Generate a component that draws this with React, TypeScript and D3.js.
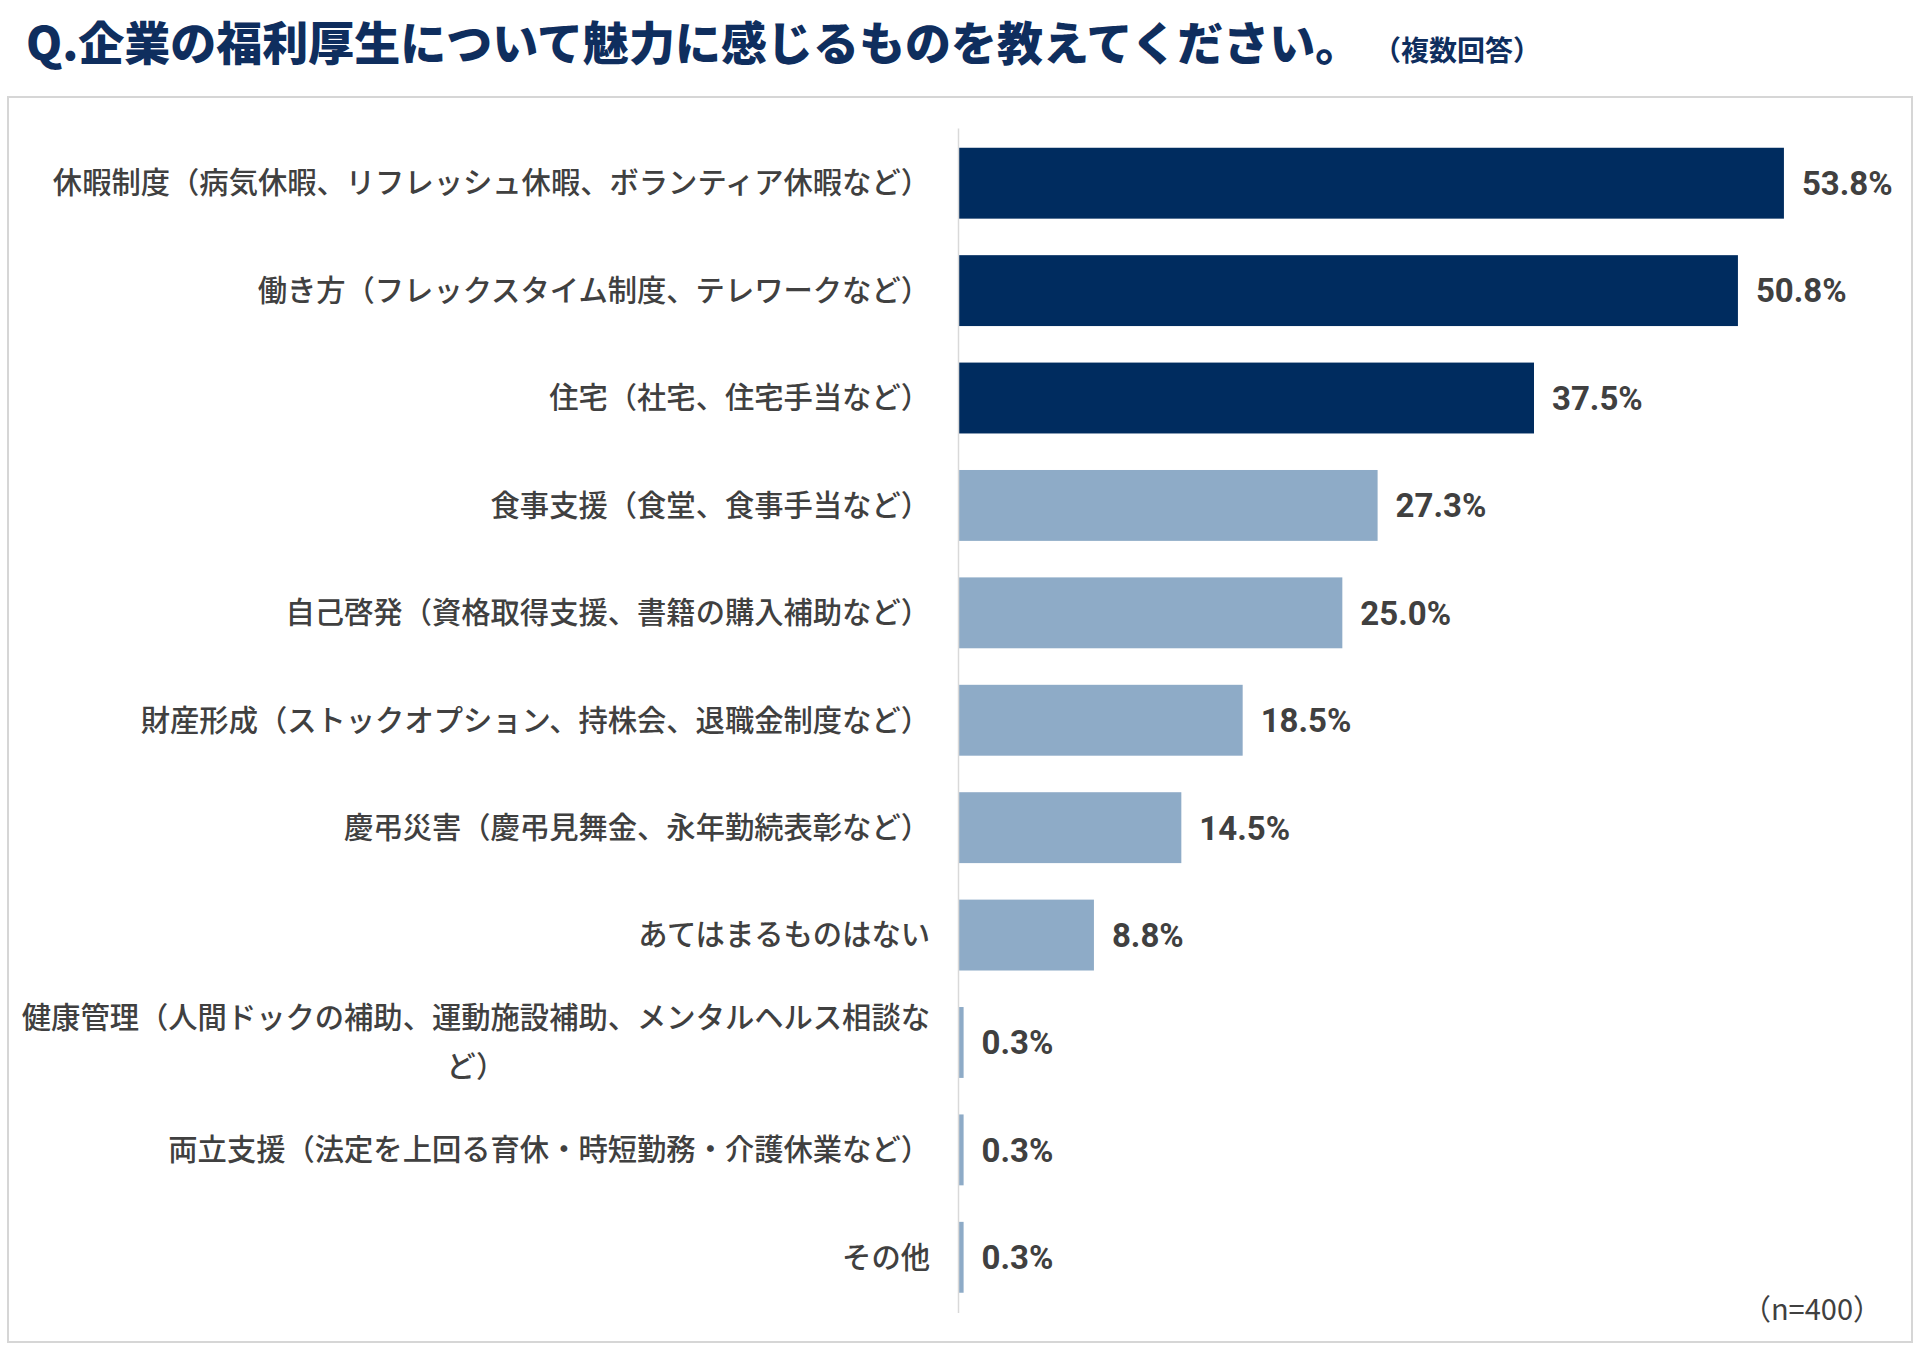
import * as d3 from "d3";
import React, { useRef, useEffect } from "react";

// chart data
const categories: string[] = [
  "休暇制度（病気休暇、リフレッシュ休暇、ボランティア休暇など）",
  "働き方（フレックスタイム制度、テレワークなど）",
  "住宅（社宅、住宅手当など）",
  "食事支援（食堂、食事手当など）",
  "自己啓発（資格取得支援、書籍の購入補助など）",
  "財産形成（ストックオプション、持株会、退職金制度など）",
  "慶弔災害（慶弔見舞金、永年勤続表彰など）",
  "あてはまるものはない",
  "健康管理（人間ドックの補助、運動施設補助、メンタルヘルス相談など）",
  "両立支援（法定を上回る育休・時短勤務・介護休業など）",
  "その他",
];
const values: number[] = [53.8, 50.8, 37.5, 27.3, 25.0, 18.5, 14.5, 8.8, 0.3, 0.3, 0.3];
const highlightCount = 3;

const titleText = "Q.企業の福利厚生について魅力に感じるものを教えてください。";
const subTitleText = "（複数回答）";
const noteText = "（n=400）";

interface Dimensions {
  width: number;
  height: number;
}

const dims: Dimensions = { width: 1914, height: 1350 };

const NAVY = "#002c5f";
const LIGHT = "#8eabc7";
const TEXT = "#404040";
const JP_FONT = "'Noto Sans CJK JP', 'Noto Sans', sans-serif";
const NUM_FONT = "Roboto, 'Noto Sans', sans-serif";

const BarChart = () => {
  const svgRef = useRef<SVGSVGElement>(null);

  useEffect(() => {
    draw();
  }, []);

  const draw = () => {
    if (svgRef.current === null) {
      return;
    }
    const svg = d3.select(svgRef.current);
    svg.selectAll("*").remove();

    // title
    svg
      .append("text")
      .attr("x", 26)
      .attr("y", 60)
      .attr("font-family", JP_FONT)
      .attr("font-weight", 900)
      .attr("font-size", 46)
      .attr("fill", "#0f2e5e")
      .text(titleText);
    svg
      .append("text")
      .attr("x", 1373)
      .attr("y", 61)
      .attr("font-family", JP_FONT)
      .attr("font-weight", 700)
      .attr("font-size", 28)
      .attr("fill", "#0f2e5e")
      .text(subTitleText);

    // frame
    svg
      .append("rect")
      .attr("x", 8)
      .attr("y", 97)
      .attr("width", 1904)
      .attr("height", 1245)
      .attr("fill", "white")
      .attr("stroke", "#d6d6d6")
      .attr("stroke-width", 2);

    const xScale = d3.scaleLinear().domain([0, 60]).range([959, 1879]);
    const yScale = d3
      .scaleBand()
      .domain(categories)
      .range([129.5, 1311])
      .paddingInner(0.34)
      .paddingOuter(0.17);

    // bars
    svg
      .selectAll(".bar")
      .data(values)
      .enter()
      .append("rect")
      .attr("class", "bar")
      .attr("x", xScale(0))
      .attr("y", (d, i) => yScale(categories[i])!)
      .attr("width", (d) => xScale(d) - xScale(0))
      .attr("height", yScale.bandwidth())
      .attr("fill", (d, i) => (i < highlightCount ? NAVY : LIGHT));

    // axis line
    svg
      .append("line")
      .attr("x1", xScale(0) - 0.5)
      .attr("x2", xScale(0) - 0.5)
      .attr("y1", yScale.range()[0] - 1)
      .attr("y2", yScale.range()[1] + 2)
      .attr("stroke", "#d9d9d9")
      .attr("stroke-width", 1.5);

    // value labels
    svg
      .selectAll(".value")
      .data(values)
      .enter()
      .append("text")
      .attr("class", "value")
      .attr("x", (d) => xScale(d) + 18)
      .attr("y", (d, i) => yScale(categories[i])! + yScale.bandwidth() / 2)
      .attr("dy", "0.36em")
      .attr("font-family", NUM_FONT)
      .attr("font-weight", 700)
      .attr("font-size", 33)
      .attr("fill", TEXT)
      .text((d) => `${d.toFixed(1)}%`);

    // category labels, wrapped when too long
    const labelRight = 930;
    const maxWidth = 915;
    const lineHeight = 49;
    categories.forEach((cat) => {
      const cy = yScale(cat)! + yScale.bandwidth() / 2;
      const text = svg
        .append("text")
        .attr("font-family", JP_FONT)
        .attr("font-weight", 500)
        .attr("font-size", 29.3)
        .attr("fill", TEXT);
      const probe = text.append("tspan");
      const lines: string[] = [];
      let line = "";
      for (const ch of Array.from(cat)) {
        probe.text(line + ch);
        if ((probe.node() as SVGTSpanElement).getComputedTextLength() > maxWidth && line) {
          lines.push(line);
          line = ch;
        } else {
          line += ch;
        }
      }
      lines.push(line);
      probe.text(lines[0]);
      const firstWidth = (probe.node() as SVGTSpanElement).getComputedTextLength();
      probe.remove();

      const multi = lines.length > 1;
      text.attr("text-anchor", multi ? "middle" : "end");
      const lx = multi ? labelRight - firstWidth / 2 : labelRight;
      lines.forEach((l, k) => {
        text
          .append("tspan")
          .attr("x", lx)
          .attr("y", cy + (k - (lines.length - 1) / 2) * lineHeight)
          .attr("dy", "0.35em")
          .text(l);
      });
    });

    // sample size note
    svg
      .append("text")
      .attr("x", 1882)
      .attr("y", 1320)
      .attr("text-anchor", "end")
      .attr("font-family", JP_FONT)
      .attr("font-weight", 400)
      .attr("font-size", 29)
      .attr("fill", TEXT)
      .text(noteText);
  };

  return (
    <div style={{ position: "absolute", left: 0, top: 0 }}>
      <svg width={dims.width} height={dims.height} ref={svgRef}></svg>
    </div>
  );
};

const App = () => {
  return <BarChart />;
};

export default App;
